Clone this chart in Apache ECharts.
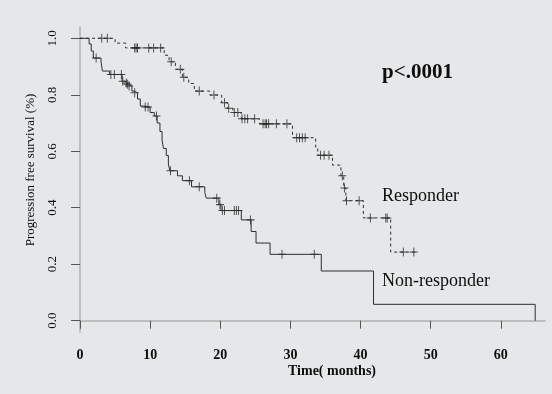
<!DOCTYPE html>
<html>
<head>
<meta charset="utf-8">
<script src="https://cdn.jsdelivr.net/npm/echarts@6/dist/echarts.min.js"></script>
<style>
  html, body { margin: 0; background: #e6e7e9; }
  #chart { width: 552px; height: 394px; }
</style>
</head>
<body>
<div id="chart"></div>
<script>
// Kaplan-Meier steps: time (months) where S(t) changes, and the new value.
const respTimes = [0, 5.0, 6.5, 12.0, 12.7, 13.6, 14.6, 15.5, 16.3, 18.5, 20.2, 21.0, 21.8, 23.0, 25.6, 30.3, 33.6, 33.9, 36.0, 37.2, 37.6, 37.9, 40.4, 44.3, 48.0];
const respSurv = [1.0, 0.983, 0.966, 0.94, 0.917, 0.89, 0.862, 0.84, 0.813, 0.799, 0.772, 0.752, 0.737, 0.715, 0.697, 0.648, 0.615, 0.586, 0.551, 0.513, 0.470, 0.425, 0.364, 0.243, 0.243];
const respCensored = [3.1, 3.9, 7.8, 8.0, 8.2, 9.8, 10.5, 11.5, 13.0, 14.3, 14.8, 17.0, 19.1, 20.6, 21.2, 22.0, 22.5, 23.1, 23.5, 23.9, 24.9, 26.1, 26.4, 26.6, 26.9, 28.0, 29.5, 30.9, 31.3, 31.7, 32.1, 34.3, 34.8, 35.5, 37.4, 37.7, 38.0, 39.8, 41.4, 43.6, 43.8, 46.1, 47.6];

const nonTimes = [0, 1.3, 1.6, 1.9, 3.0, 3.2, 4.2, 6.0, 6.5, 6.7, 6.9, 7.4, 7.7, 8.2, 8.6, 9.0, 10.0, 10.6, 11.0, 11.4, 11.7, 11.9, 12.3, 12.6, 12.8, 13.9, 14.6, 15.9, 17.8, 18.0, 19.8, 20.1, 23.0, 24.4, 25.1, 27.1, 34.4, 41.85, 64.9];
const nonSurv = [1.0, 0.98, 0.955, 0.93, 0.916, 0.884, 0.872, 0.848, 0.842, 0.837, 0.831, 0.813, 0.807, 0.785, 0.76, 0.757, 0.737, 0.725, 0.70, 0.67, 0.64, 0.61, 0.585, 0.555, 0.531, 0.513, 0.496, 0.474, 0.454, 0.434, 0.411, 0.39, 0.357, 0.316, 0.275, 0.235, 0.176, 0.058, 0.0];
const nonCensored = [2.3, 4.4, 4.9, 5.9, 6.1, 6.6, 6.8, 7.0, 7.8, 9.3, 9.7, 10.9, 12.9, 15.6, 17.0, 19.5, 19.95, 20.3, 20.6, 22.0, 22.3, 22.6, 24.3, 28.8, 33.4];

const xTicks = [0, 10, 20, 30, 40, 50, 60];
const yTicks = [0, 0.2, 0.4, 0.6, 0.8, 1.0];

const SERIF = "'Liberation Serif', 'DejaVu Serif', serif";
const INK = '#0d0d0d';
const PLUS = 'path://M4,0L4,8M0,4L8,4';

// censor marks sit on the curve: look up the step value at that time
const survAt = (times, surv, t) => {
  let v = surv[0];
  for (let i = 0; i < times.length; i++) if (times[i] <= t) v = surv[i];
  return v;
};
const steps = (times, surv) => times.map((t, i) => [t, surv[i]]);
const marks = (times, surv, cens) => cens.map((t) => [t, survAt(times, surv, t)]);

const chart = echarts.init(document.getElementById('chart'));
chart.setOption({
  backgroundColor: '#e6e7e9',
  animation: false,
  grid: { left: 80, right: 7, top: 27, bottom: 62 },
  xAxis: {
    type: 'value', min: 0, max: 66.3,
    splitLine: { show: false },
    axisLine: { lineStyle: { color: '#b0b0b0', width: 1.5 } },
    axisTick: { customValues: xTicks, length: 8, lineStyle: { color: '#555' } },
    axisLabel: {
      customValues: xTicks, margin: 16, color: INK,
      fontFamily: SERIF, fontSize: 14, fontWeight: 'bold',
    },
  },
  yAxis: {
    type: 'value', min: -0.04, max: 1.04,
    splitLine: { show: false },
    axisLine: { show: true, lineStyle: { color: '#b0b0b0', width: 1.5 } },
    axisTick: { show: true, customValues: yTicks, length: 9, lineStyle: { color: '#555' } },
    axisLabel: {
      customValues: yTicks, rotate: 90, margin: 21, color: INK,
      fontFamily: SERIF, fontSize: 13,
      formatter: (v) => v.toFixed(1),
    },
  },
  series: [
    {
      name: 'Responder', type: 'line', step: 'end', symbol: 'none',
      lineStyle: { color: '#2e2e2e', width: 1, type: [3, 3] },
      data: steps(respTimes, respSurv),
    },
    {
      name: 'Non-responder', type: 'line', step: 'end', symbol: 'none',
      lineStyle: { color: '#2e2e2e', width: 1 },
      data: steps(nonTimes, nonSurv),
    },
    {
      name: 'Responder censored', type: 'scatter', symbol: PLUS, symbolSize: [8, 9],
      itemStyle: { color: 'transparent', borderColor: '#222', borderWidth: 1 },
      data: marks(respTimes, respSurv, respCensored),
    },
    {
      name: 'Non-responder censored', type: 'scatter', symbol: PLUS, symbolSize: [8, 9],
      itemStyle: { color: 'transparent', borderColor: '#222', borderWidth: 1 },
      data: marks(nonTimes, nonSurv, nonCensored),
    },
  ],
  graphic: [
    { type: 'text', x: 382, y: 73, style: { text: 'p<.0001', font: `bold 21px ${SERIF}`, fill: INK, verticalAlign: 'middle' } },
    { type: 'text', x: 382, y: 196, style: { text: 'Responder', font: `18px ${SERIF}`, fill: INK, verticalAlign: 'middle' } },
    { type: 'text', x: 382, y: 281, style: { text: 'Non-responder', font: `18px ${SERIF}`, fill: INK, verticalAlign: 'middle' } },
    { type: 'text', x: 332, y: 371, style: { text: 'Time( months)', font: `bold 14px ${SERIF}`, fill: INK, align: 'center', verticalAlign: 'middle' } },
    {
      type: 'text', x: 31, y: 170, rotation: Math.PI / 2,
      style: { text: 'Progression free survival (%)', font: `13px ${SERIF}`, fill: INK, align: 'center', verticalAlign: 'middle' },
    },
  ],
});
</script>
</body>
</html>
